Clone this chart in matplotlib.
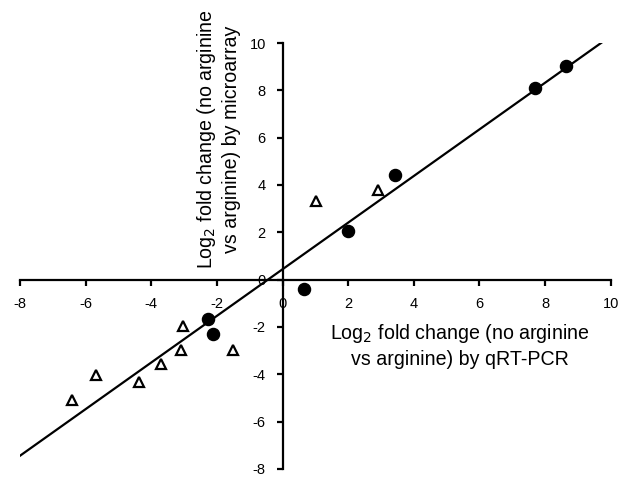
import numpy as np
import matplotlib
matplotlib.use("Agg")
import matplotlib.pyplot as plt

plt.rcParams["font.family"] = ["Liberation Sans", "DejaVu Sans"]
plt.rcParams["axes.unicode_minus"] = False

# filled circles: (qRT-PCR, microarray)
circ_x = [-2.27, -2.13, 0.66, 1.98, 3.43, 7.70, 8.63]
circ_y = [-1.65, -2.29, -0.41, 2.07, 4.41, 8.08, 9.04]
# open triangles
tri_x = [-6.43, -5.69, -4.38, -3.71, -3.08, -3.04, -1.52, 1.01, 2.90]
tri_y = [-5.07, -4.03, -4.32, -3.55, -2.96, -1.96, -2.96, 3.31, 3.80]

# regression line
slope, icpt = 0.985, 0.44
line_x = [-8.0, 9.73]

ticks = [-8, -6, -4, -2, 0, 2, 4, 6, 8, 10]

fig = plt.figure(figsize=(6.28, 4.79), dpi=100)
ax = fig.add_axes([20/628, 10/479, 590.7/628, 426/479])
ax.set_xlim(-8, 10)
ax.set_ylim(-8, 10)

lx = np.array(line_x)
ax.plot(lx, slope*lx + icpt, color="black", lw=1.6, zorder=2)
ax.plot(circ_x, circ_y, "o", color="black", ms=8.7, zorder=3)
ax.plot(tri_x, tri_y, "^", mfc="white", mec="black", mew=1.6, ms=7.5, zorder=3)

for s in ["top", "right"]:
    ax.spines[s].set_visible(False)
ax.spines["left"].set_position(("data", 0))
ax.spines["bottom"].set_position(("data", 0))
ax.spines["left"].set_linewidth(1.6)
ax.spines["bottom"].set_linewidth(1.6)
ax.set_xticks(ticks)
ax.set_yticks(ticks)
ax.tick_params(direction="out", length=4.5, width=1.6, labelsize=10.5)
ax.tick_params(axis="x", pad=8)
ax.tick_params(axis="y", pad=7.5)
ax.set_facecolor("none")

ax.text(-1.97, 5.91, "Log$_2$ fold change (no arginine\nvs arginine) by microarray",
        rotation=90, ha="center", va="center", fontsize=14.1, linespacing=1.3)
ax.text(5.41, -2.79, "Log$_2$ fold change (no arginine\nvs arginine) by qRT-PCR",
        ha="center", va="center", fontsize=14.1, linespacing=1.3)

fig.savefig("out.png", dpi=100)
